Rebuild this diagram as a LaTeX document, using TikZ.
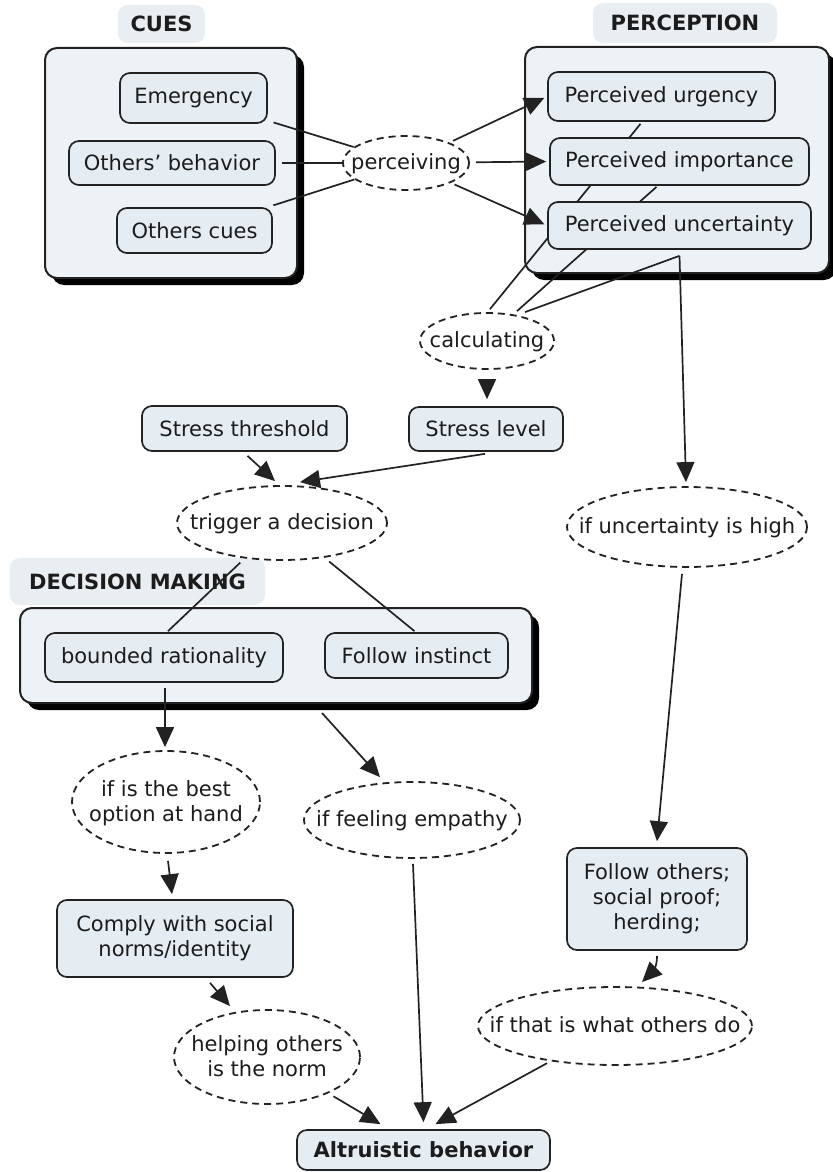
\documentclass[tikz,border=0pt]{standalone}
\usepackage{fontspec}
\setmainfont{DejaVu Sans}
\usetikzlibrary{shapes.geometric,arrows.meta,calc,shadows}

\definecolor{ink}{HTML}{1C1C1C}
\definecolor{edge}{HTML}{222222}
\definecolor{boxfill}{HTML}{E6EDF2}
\definecolor{groupfill}{HTML}{EDF2F6}
\definecolor{tagfill}{HTML}{E9EEF2}

\pgfdeclarelayer{bg}
\pgfdeclarelayer{mid}
\pgfsetlayers{bg,mid,main}

% text of an ellipse: centred, and not widening the ellipse
\newcommand{\eltext}[1]{\raisebox{-3.6pt}[0pt][0pt]{\makebox[0pt]{\begin{tabular}{@{}c@{}}#1\end{tabular}}}}

\tikzset{
  base/.style={font=\fontsize{10.5}{12.5}\selectfont, text=ink, inner sep=0pt},
  cbox/.style={base, rectangle, rounded corners=5pt, draw=edge, line width=0.85pt,
               fill=boxfill, align=center},
  link/.style={base, ellipse, draw=edge, line width=0.9pt,
               dash pattern=on 3.5pt off 2.5pt, fill=white},
  tag/.style={base, rectangle, rounded corners=5pt, fill=tagfill,
              font=\fontsize{10.5}{12.5}\selectfont\bfseries},
  group/.style={rectangle, rounded corners=6pt, draw=edge, line width=1pt, fill=groupfill,
                drop shadow={shadow xshift=3.5pt, shadow yshift=-3.5pt, fill=black, opacity=1}},
  con/.style={draw=edge, line width=0.85pt},
  arr/.style={con, -{Triangle[length=10pt,width=9pt]}},
}

\begin{document}
\begin{tikzpicture}[x=0.5pt, y=-0.5pt]

% ---------- page and group frames ----------
\begin{pgfonlayer}{bg}
  \path[use as bounding box, fill=white] (0,0) rectangle (833,1172);
  \node[group, minimum width=126pt, minimum height=115pt] (cuesBox) at (171,163) {};
  \node[group, minimum width=152pt, minimum height=113pt] (percBox) at (677,160) {};
  \node[group, minimum width=256pt, minimum height=47.5pt] (dmBox) at (276,655.5) {};
  \node[tag, minimum width=43.5pt, minimum height=19pt] (cuesTag) at (161.5,24) {CUES};
  \node[tag, minimum width=92pt, minimum height=20pt] (percTag) at (685,23) {PERCEPTION};
  \node[tag, minimum width=127.5pt, minimum height=23.5pt] (dmTag) at (137.5,581.5) {DECISION MAKING};
\end{pgfonlayer}

% ---------- concepts ----------
\node[cbox, minimum width=73.5pt, minimum height=25pt] (emergency) at (193.5,98) {Emergency};
\node[cbox, minimum width=103pt, minimum height=22pt] (othersBeh) at (172,163) {Others' behavior};
\node[cbox, minimum width=77.5pt, minimum height=22.5pt] (othersCues) at (194.5,230.5) {Others cues};

\node[link, minimum width=63pt, minimum height=27pt] (perceiving) at (406,163) {\eltext{perceiving}};

\node[cbox, minimum width=113.5pt, minimum height=24.5pt] (urgency) at (661.5,96.5) {Perceived urgency};
\node[cbox, minimum width=129.5pt, minimum height=23.5pt] (importance) at (679.5,161.5) {Perceived importance};
\node[cbox, minimum width=131.5pt, minimum height=23.5pt] (uncertainty) at (679.5,225.5) {Perceived uncertainty};

\node[link, minimum width=67pt, minimum height=28pt] (calculating) at (487,341) {\eltext{calculating}};
\node[cbox, minimum width=77pt, minimum height=22pt] (stressLevel) at (486,429) {Stress level};
\node[cbox, minimum width=102.5pt, minimum height=22.5pt] (stressThr) at (244.5,428.5) {Stress threshold};

\node[link, minimum width=105pt, minimum height=37pt] (trigger) at (282,523) {\eltext{trigger a decision}};
\node[link, minimum width=120pt, minimum height=40pt] (uncHigh) at (687,527) {\eltext{if uncertainty is high}};

\node[cbox, minimum width=119pt, minimum height=24.5pt] (bounded) at (164,657.5) {bounded rationality};
\node[cbox, minimum width=91.5pt, minimum height=22.5pt] (instinct) at (416.5,655.5) {Follow instinct};

\node[link, minimum width=94pt, minimum height=51pt] (best) at (166,802) {\eltext{if is the best\\option at hand}};
\node[link, minimum width=108pt, minimum height=38pt] (empathy) at (412,820) {\eltext{if feeling empathy}};
\node[cbox, minimum width=118pt, minimum height=38.5pt] (comply) at (175,938.5) {Comply with social\\norms/identity};
\node[link, minimum width=93pt, minimum height=47pt] (helping) at (267,1057) {\eltext{helping others\\is the norm}};

\node[cbox, minimum width=90pt, minimum height=51pt] (follow) at (657,899) {Follow others;\\social proof;\\herding;};
\node[link, minimum width=137pt, minimum height=39pt] (thatIs) at (615,1026) {\eltext{if that is what others do}};

\node[cbox, minimum width=126.5pt, minimum height=20pt, font=\fontsize{10.5}{12.5}\selectfont\bfseries] (altru) at (423.5,1150) {Altruistic behavior};

% ---------- connectors ----------
\begin{pgfonlayer}{mid}
  % cues are perceived
  \draw[con, shorten <=3pt] (emergency) -- (perceiving);
  \draw[con, shorten <=3pt] (othersBeh) -- (perceiving);
  \draw[con, shorten <=3pt] (othersCues) -- (perceiving);
  \draw[arr, shorten <=2pt, shorten >=1.5pt] (perceiving) -- (urgency.west);
  \draw[arr, shorten <=3pt, shorten >=1.5pt] (perceiving) -- (importance.west);
  \draw[arr, shorten <=2pt, shorten >=1.5pt] (perceiving) -- (uncertainty.west);

  % perceptions feed the calculation
  \coordinate (uncFoot) at ($(uncertainty.south)+(0,6)$);
  \draw[con] ($(calculating.north)+(3,-3)$) -- ($(urgency.south)+(-21,2)$);
  \draw[con] ($(calculating.north)+(30,-1)$) -- ($(importance.south)+(-23,1)$);
  \draw[con] ($(calculating.north)+(38,0)$) -- (uncFoot);
  \draw[arr] (uncFoot) -- ($(uncHigh.north)+(-1,-4)$);

  \draw[arr, shorten <=4.5pt, shorten >=3.5pt] (calculating.south) -- (calculating.south |- stressLevel.north);
  \draw[arr] ($(stressThr.south)+(3,4)$) -- ($(trigger.north)+(-7,-4)$);
  \draw[arr] ($(stressLevel.south)+(-1,2)$) -- ($(trigger.north)+(18,-3)$);

  % the decision
  \draw[con, shorten <=3pt] (trigger) -- ($(bounded.north)+(4,-1)$);
  \draw[con, shorten <=3pt] (trigger) -- ($(instinct.north)+(-2,-1)$);
  \draw[arr] ($(bounded.south)+(1,5)$) -- ($(best.north)+(-1,-3)$);
  \draw[arr] ($(dmBox.south)+(46,9)$) -- ($(empathy.north)+(-32,-4)$);
  \draw[arr] ($(best.south)+(2,7)$) -- ($(comply.north)+(-3,-5)$);
  \draw[arr] ($(comply.south)+(35,5)$) -- ($(helping.north)+(-37,-3)$);

  % social route
  \draw[arr] ($(uncHigh.south)+(-5,6)$) -- ($(follow.north)+(0,-6)$);
  \draw[arr] ($(follow.south)+(0,5)$) .. controls ($(follow.south)+(0,20)$) and ($(thatIs.north)+(35,-12)$) .. ($(thatIs.north)+(27,-4)$);

  % into altruistic behaviour
  \draw[arr, shorten <=3pt] (helping) -- ($(altru.north)+(-43,-5)$);
  \draw[arr] ($(empathy.south)+(1,5)$) -- ($(altru.north)+(0,-7)$);
  \draw[arr, shorten <=2pt] (thatIs) -- ($(altru.north)+(12,-5)$);
\end{pgfonlayer}

\end{tikzpicture}
\end{document}
